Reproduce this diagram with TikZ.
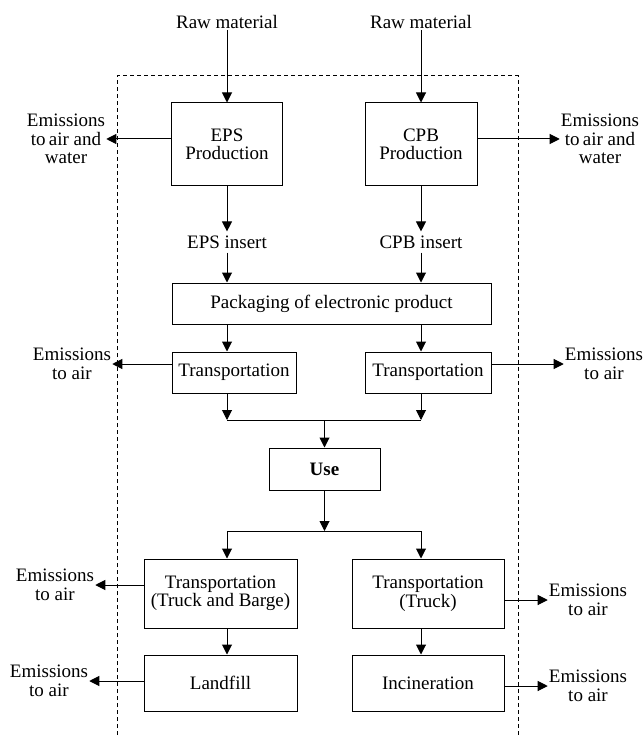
\documentclass[tikz,border=0pt]{standalone}
\usepackage{fontspec}
\setmainfont{Liberation Serif}
\usetikzlibrary{arrows.meta}
\tikzset{
  blk/.style={draw, line width=1pt, align=center, inner sep=2pt},
  lbl/.style={align=center, inner sep=1pt},
  arr/.style={line width=1pt, -{Triangle[length=10pt,width=10pt]}},
  ln/.style={line width=1pt}
}

\begin{document}
\begin{tikzpicture}[x=1pt,y=-1pt,font=\fontsize{19}{18.5}\selectfont]
       \useasboundingbox (0,0) rectangle (642,735);
       % system boundary
       \draw[ln, dash pattern=on 4pt off 3pt] (117,735) -- (117,76) -- (518,76) -- (518,735);
       % production
       \node[lbl] (raw1) at (227,22) {Raw material};
       \node[lbl] (raw2) at (421,22) {Raw material};
       \node[blk, minimum width=111, minimum height=83] (eps) at (227,144.5) {EPS\\Production};
       \node[blk, minimum width=112, minimum height=83] (cpb) at (421,144.5) {CPB\\Production};
       \node[lbl, inner sep=4pt] (epsins) at (227,242) {EPS insert};
       \node[lbl, inner sep=4pt] (cpbins) at (421,242) {CPB insert};
       \node[blk, minimum width=319, minimum height=41] (pack) at (331.5,303.5) {Packaging of electronic product};
       \node[blk, minimum width=124, minimum height=41] (tr1) at (234,372.5) {Transportation};
       \node[blk, minimum width=126, minimum height=41] (tr2) at (428,372.5) {Transportation};
       \node[blk, minimum width=111, minimum height=42] (use) at (324.5,469) {\textbf{Use}};
       % end of life
       \node[blk, minimum width=153, minimum height=69] (trb) at (220.5,593.5) {Transportation\\(Truck and Barge)};
       \node[blk, minimum width=152, minimum height=69] (trt) at (428,593.5) {Transportation\\(Truck)};
       \node[blk, minimum width=153, minimum height=56] (land) at (220.5,683) {Landfill};
       \node[blk, minimum width=152, minimum height=56] (inc) at (428,683) {Incineration};
       \coordinate (j1) at (324.5,420);
       \coordinate (j2) at (324.5,531);
       % emissions
       \node[lbl] (em1) at (66,139) {Emissions\\to\,air and\\water};
       \node[lbl] (em2) at (600,139) {Emissions\\to\,air and\\water};
       \node[lbl] (em3) at (72,364) {Emissions\\to air};
       \node[lbl] (em4) at (604,364) {Emissions\\to air};
       \node[lbl] (em5) at (55,585) {Emissions\\to air};
       \node[lbl] (em6) at (588,600) {Emissions\\to air};
       \node[lbl] (em7) at (49,681) {Emissions\\to air};
       \node[lbl] (em8) at (588,686) {Emissions\\to air};
       \foreach \a/\b in {raw1/eps, raw2/cpb, eps/epsins, cpb/cpbins, epsins/pack, cpbins/pack} {
       \draw[arr] (\a.south -| \a) -- (\b.north -| \a);}
       \draw[arr] (pack.south -| epsins) -- (tr1.north -| epsins);
       \draw[arr] (pack.south -| cpbins) -- (tr2.north -| cpbins);
       \draw[arr] (tr1.south -| eps) -- (eps |- j1);
       \draw[arr] (tr2.south -| cpb) -- (cpb |- j1);
       \draw[ln] (eps |- j1) -- (cpb |- j1);
       \draw[arr] (j1) -- (use);
       \draw[arr] (use) -- (j2);
       \draw[ln] (eps |- j2) -- (cpb |- j2);
       \draw[arr] (eps |- j2) -- (trb.north -| eps);
       \draw[arr] (cpb |- j2) -- (trt.north -| cpb);
       \draw[arr] (trb.south -| eps) -- (land.north -| eps);
       \draw[arr] (trt.south -| cpb) -- (inc.north -| cpb);
       \foreach \b/\e in {eps/em1, tr1/em3, trb/em5, land/em7} {
       \draw[arr] (\b.west |- \e) -- (\e.east);}
       \foreach \b/\e in {cpb/em2, tr2/em4, trt/em6, inc/em8} {
       \draw[arr] (\b.east |- \e) -- (\e.west);}
\end{tikzpicture}
\end{document}
